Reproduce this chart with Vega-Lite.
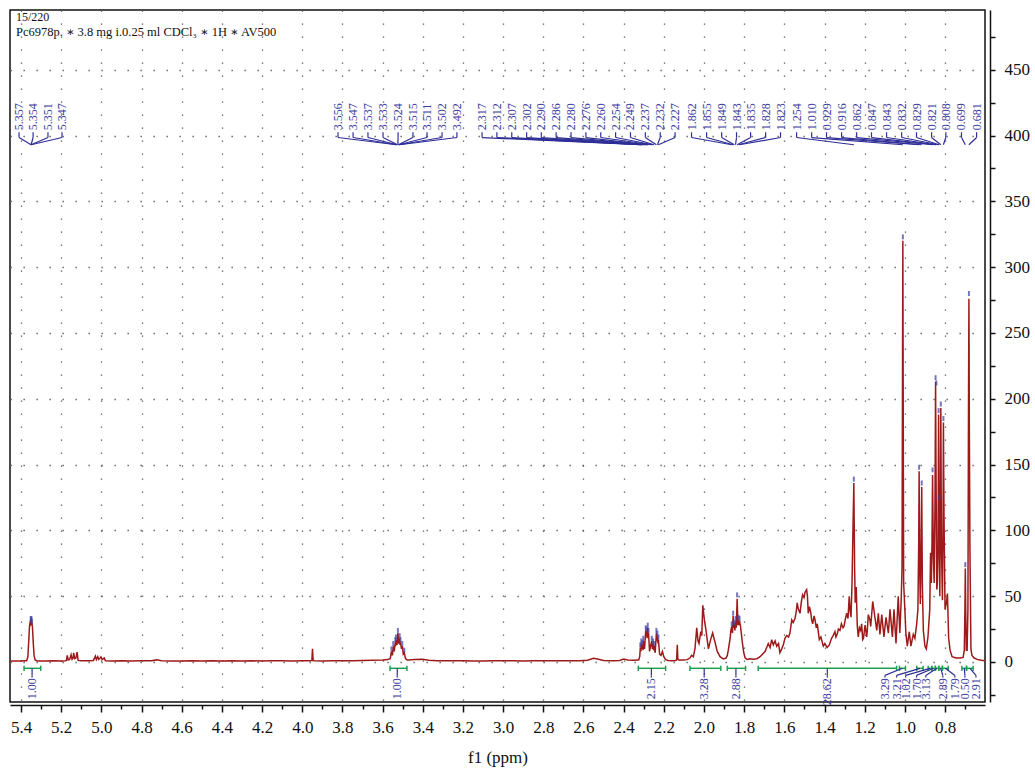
{
"$schema": "https://vega.github.io/schema/vega-lite/v6.json",
"width": 975, "height": 692,
"autosize": "none",
"padding": {"left": 10, "top": 10, "right": 50, "bottom": 67},
"background": "white",
"config": {"view": {"stroke": "#111", "strokeWidth": 1.5}, "font": "Liberation Serif"},
"title": {"text": "15/220", "subtitle": "Pc6978p. ∗ 3.8 mg i.0.25 ml CDCl₃ ∗ 1H ∗ AV500", "anchor": "start", "frame": "group", "orient": "top", "offset": -29, "dx": 6, "font": "Liberation Serif, DejaVu Serif", "fontSize": 12, "fontWeight": "normal", "color": "#111", "subtitleFont": "Liberation Serif, DejaVu Serif", "subtitleFontSize": 12.5, "subtitleColor": "#111", "subtitlePadding": 2},
"datasets": {
"spec": [
{"ppm":5.455,"v":0.7},{"ppm":5.43,"v":0.8},{"ppm":5.40,"v":0.7},{"ppm":5.38,"v":0.9},{"ppm":5.372,"v":1.0},{"ppm":5.366,"v":4},{"ppm":5.362,"v":15},{"ppm":5.358,"v":27},{"ppm":5.355,"v":30},{"ppm":5.352,"v":29},{"ppm":5.349,"v":31},{"ppm":5.346,"v":30},{"ppm":5.343,"v":26},{"ppm":5.339,"v":14},{"ppm":5.335,"v":5},{"ppm":5.330,"v":1.5},{"ppm":5.32,"v":0.8},{"ppm":5.28,"v":0.7},{"ppm":5.24,"v":1.0},{"ppm":5.20,"v":0.8},{"ppm":5.18,"v":1.0},
{"ppm":5.174,"v":1.2},{"ppm":5.170,"v":5},{"ppm":5.165,"v":1.5},{"ppm":5.158,"v":2},{"ppm":5.151,"v":5.5},{"ppm":5.146,"v":2},{"ppm":5.141,"v":3},{"ppm":5.138,"v":7},{"ppm":5.133,"v":2.5},{"ppm":5.127,"v":3},{"ppm":5.121,"v":7.5},{"ppm":5.116,"v":1.2},{"ppm":5.10,"v":0.9},{"ppm":5.06,"v":1.0},{"ppm":5.04,"v":1.2},
{"ppm":5.030,"v":4.5},{"ppm":5.025,"v":1.8},{"ppm":5.018,"v":4},{"ppm":5.013,"v":2},{"ppm":5.006,"v":3},{"ppm":5.002,"v":3.8},{"ppm":4.996,"v":1.8},{"ppm":4.990,"v":2.5},{"ppm":4.986,"v":3},{"ppm":4.980,"v":1.0},
{"ppm":4.95,"v":0.8},{"ppm":4.90,"v":1.0},{"ppm":4.85,"v":0.7},{"ppm":4.80,"v":0.9},{"ppm":4.75,"v":1.0},{"ppm":4.725,"v":1.6},{"ppm":4.70,"v":0.9},{"ppm":4.65,"v":0.8},{"ppm":4.60,"v":0.8},{"ppm":4.55,"v":1.0},{"ppm":4.50,"v":0.7},{"ppm":4.45,"v":0.9},{"ppm":4.40,"v":0.8},{"ppm":4.35,"v":1.0},{"ppm":4.30,"v":0.8},{"ppm":4.25,"v":0.9},{"ppm":4.20,"v":0.7},{"ppm":4.15,"v":0.9},{"ppm":4.10,"v":1.0},{"ppm":4.05,"v":0.8},{"ppm":4.00,"v":0.9},{"ppm":3.96,"v":1.0},{"ppm":3.952,"v":1.2},{"ppm":3.949,"v":10},{"ppm":3.946,"v":1.2},{"ppm":3.94,"v":0.9},{"ppm":3.90,"v":0.8},{"ppm":3.85,"v":1.0},{"ppm":3.80,"v":0.9},{"ppm":3.75,"v":1.0},{"ppm":3.70,"v":1.2},{"ppm":3.65,"v":1.4},{"ppm":3.60,"v":1.6},
{"ppm":3.575,"v":1.8},{"ppm":3.562,"v":2.5},{"ppm":3.556,"v":8},{"ppm":3.551,"v":5},{"ppm":3.547,"v":12},{"ppm":3.542,"v":8},{"ppm":3.537,"v":15},{"ppm":3.535,"v":12},{"ppm":3.533,"v":17},{"ppm":3.528,"v":13},{"ppm":3.524,"v":22},{"ppm":3.519,"v":14},{"ppm":3.515,"v":18},{"ppm":3.513,"v":13},{"ppm":3.511,"v":15},{"ppm":3.506,"v":10},{"ppm":3.502,"v":12},{"ppm":3.497,"v":6},{"ppm":3.492,"v":7},{"ppm":3.486,"v":2.5},{"ppm":3.478,"v":1.5},
{"ppm":3.47,"v":1.5},{"ppm":3.44,"v":1.8},{"ppm":3.40,"v":2.0},{"ppm":3.37,"v":1.4},{"ppm":3.33,"v":1.0},{"ppm":3.30,"v":1.0},{"ppm":3.25,"v":0.9},{"ppm":3.20,"v":1.0},{"ppm":3.15,"v":0.8},{"ppm":3.10,"v":0.8},{"ppm":3.05,"v":1.0},{"ppm":3.00,"v":1.0},{"ppm":2.95,"v":0.9},{"ppm":2.90,"v":0.8},{"ppm":2.85,"v":1.0},{"ppm":2.80,"v":1.0},{"ppm":2.75,"v":0.9},{"ppm":2.70,"v":0.9},{"ppm":2.65,"v":1.0},{"ppm":2.62,"v":1.0},{"ppm":2.58,"v":1.3},{"ppm":2.55,"v":2.8},{"ppm":2.53,"v":2.2},{"ppm":2.50,"v":1.2},{"ppm":2.45,"v":1.0},{"ppm":2.42,"v":1.2},{"ppm":2.40,"v":2.2},{"ppm":2.38,"v":1.5},{"ppm":2.35,"v":1.3},{"ppm":2.33,"v":1.5},
{"ppm":2.325,"v":1.5},{"ppm":2.320,"v":4},{"ppm":2.317,"v":11},{"ppm":2.314,"v":8},{"ppm":2.312,"v":14},{"ppm":2.309,"v":10},{"ppm":2.307,"v":13},{"ppm":2.304,"v":9},{"ppm":2.302,"v":16},{"ppm":2.296,"v":10},{"ppm":2.290,"v":24},{"ppm":2.288,"v":20},{"ppm":2.286,"v":23},{"ppm":2.283,"v":18},{"ppm":2.280,"v":26},{"ppm":2.278,"v":20},{"ppm":2.276,"v":22},{"ppm":2.271,"v":8},{"ppm":2.266,"v":12},{"ppm":2.260,"v":16},{"ppm":2.257,"v":10},{"ppm":2.254,"v":14},{"ppm":2.251,"v":9},{"ppm":2.249,"v":12},{"ppm":2.243,"v":7},{"ppm":2.237,"v":22},{"ppm":2.234,"v":16},{"ppm":2.232,"v":20},{"ppm":2.229,"v":14},{"ppm":2.227,"v":17},{"ppm":2.221,"v":6},{"ppm":2.214,"v":5},{"ppm":2.207,"v":8},{"ppm":2.200,"v":4},{"ppm":2.192,"v":2},{"ppm":2.180,"v":1.2},{"ppm":2.160,"v":1},
{"ppm":2.14,"v":1.2},{"ppm":2.136,"v":2},{"ppm":2.133,"v":13},{"ppm":2.130,"v":2},{"ppm":2.125,"v":1.5},{"ppm":2.10,"v":1.5},{"ppm":2.085,"v":1.8},{"ppm":2.075,"v":2.5},
{"ppm":2.070,"v":3},{"ppm":2.062,"v":5},{"ppm":2.053,"v":4},{"ppm":2.045,"v":10},{"ppm":2.036,"v":26},{"ppm":2.030,"v":16},{"ppm":2.025,"v":14},{"ppm":2.016,"v":23},{"ppm":2.011,"v":20},{"ppm":2.006,"v":43},{"ppm":1.998,"v":32},{"ppm":1.990,"v":24},{"ppm":1.978,"v":10},{"ppm":1.967,"v":17},{"ppm":1.957,"v":22},{"ppm":1.945,"v":15},{"ppm":1.934,"v":8},{"ppm":1.920,"v":4},{"ppm":1.904,"v":2.3},{"ppm":1.890,"v":3},{"ppm":1.884,"v":5},
{"ppm":1.879,"v":9},{"ppm":1.870,"v":18},{"ppm":1.866,"v":24},{"ppm":1.862,"v":27},{"ppm":1.858,"v":22},{"ppm":1.855,"v":35},{"ppm":1.852,"v":26},{"ppm":1.849,"v":28},{"ppm":1.846,"v":24},{"ppm":1.843,"v":31},{"ppm":1.839,"v":26},{"ppm":1.835,"v":48},{"ppm":1.831,"v":28},{"ppm":1.828,"v":32},{"ppm":1.825,"v":28},{"ppm":1.823,"v":31},{"ppm":1.818,"v":27},{"ppm":1.810,"v":16},{"ppm":1.802,"v":7},{"ppm":1.795,"v":3},{"ppm":1.785,"v":2},
{"ppm":1.771,"v":2.5},{"ppm":1.755,"v":2},{"ppm":1.736,"v":2.5},{"ppm":1.721,"v":4},{"ppm":1.696,"v":8},{"ppm":1.680,"v":14},{"ppm":1.671,"v":11},{"ppm":1.663,"v":17},{"ppm":1.655,"v":13},{"ppm":1.646,"v":16},{"ppm":1.638,"v":12},{"ppm":1.629,"v":14},{"ppm":1.622,"v":7},{"ppm":1.613,"v":10},{"ppm":1.605,"v":13},{"ppm":1.597,"v":18},{"ppm":1.588,"v":20},{"ppm":1.579,"v":19},{"ppm":1.572,"v":22},{"ppm":1.563,"v":32},{"ppm":1.556,"v":30},{"ppm":1.547,"v":33},{"ppm":1.541,"v":38},{"ppm":1.536,"v":45},{"ppm":1.530,"v":40},{"ppm":1.522,"v":37},{"ppm":1.515,"v":46},{"ppm":1.509,"v":51},{"ppm":1.502,"v":49},{"ppm":1.497,"v":53},{"ppm":1.489,"v":55},{"ppm":1.485,"v":50},{"ppm":1.481,"v":37},{"ppm":1.475,"v":42},{"ppm":1.469,"v":38},{"ppm":1.464,"v":32},{"ppm":1.459,"v":29},{"ppm":1.452,"v":35},{"ppm":1.447,"v":32},{"ppm":1.441,"v":26},{"ppm":1.436,"v":29},{"ppm":1.426,"v":17},{"ppm":1.418,"v":19},{"ppm":1.406,"v":12},{"ppm":1.398,"v":14},{"ppm":1.387,"v":11},{"ppm":1.376,"v":13},{"ppm":1.365,"v":18},{"ppm":1.357,"v":20},{"ppm":1.348,"v":23},{"ppm":1.343,"v":19},{"ppm":1.337,"v":21},{"ppm":1.331,"v":25},{"ppm":1.323,"v":24},{"ppm":1.316,"v":29},{"ppm":1.308,"v":26},{"ppm":1.303,"v":27},{"ppm":1.297,"v":32},{"ppm":1.290,"v":37},{"ppm":1.283,"v":33},{"ppm":1.277,"v":50},{"ppm":1.272,"v":38},{"ppm":1.268,"v":34},{"ppm":1.263,"v":60},{"ppm":1.259,"v":95},{"ppm":1.254,"v":136},{"ppm":1.250,"v":70},{"ppm":1.247,"v":45},{"ppm":1.242,"v":57},{"ppm":1.237,"v":28},{"ppm":1.232,"v":19},{"ppm":1.226,"v":26},{"ppm":1.220,"v":24},{"ppm":1.215,"v":29},{"ppm":1.210,"v":17},{"ppm":1.206,"v":18},{"ppm":1.198,"v":28},{"ppm":1.190,"v":19},{"ppm":1.187,"v":24},{"ppm":1.182,"v":36},{"ppm":1.174,"v":32},{"ppm":1.170,"v":27},{"ppm":1.160,"v":46},{"ppm":1.149,"v":34},{"ppm":1.140,"v":24},{"ppm":1.132,"v":37},{"ppm":1.124,"v":21},{"ppm":1.115,"v":36},{"ppm":1.104,"v":19},{"ppm":1.094,"v":34},{"ppm":1.082,"v":22},{"ppm":1.074,"v":40},{"ppm":1.062,"v":19},{"ppm":1.054,"v":40},{"ppm":1.044,"v":14},{"ppm":1.033,"v":50},{"ppm":1.025,"v":22},{"ppm":1.018,"v":48},{"ppm":1.014,"v":72},{"ppm":1.010,"v":320},{"ppm":1.006,"v":60},{"ppm":1.000,"v":40},{"ppm":0.995,"v":22},{"ppm":0.988,"v":12},{"ppm":0.978,"v":23},{"ppm":0.970,"v":12},{"ppm":0.958,"v":21},{"ppm":0.950,"v":18},
{"ppm":0.941,"v":29},{"ppm":0.935,"v":40},{"ppm":0.931,"v":90},{"ppm":0.929,"v":145},{"ppm":0.926,"v":70},{"ppm":0.923,"v":44},{"ppm":0.919,"v":90},{"ppm":0.916,"v":133},{"ppm":0.913,"v":60},{"ppm":0.908,"v":24},{"ppm":0.900,"v":12},{"ppm":0.893,"v":10},{"ppm":0.885,"v":19},{"ppm":0.876,"v":40},{"ppm":0.872,"v":83},{"ppm":0.868,"v":60},{"ppm":0.865,"v":90},{"ppm":0.862,"v":142},{"ppm":0.858,"v":80},{"ppm":0.854,"v":60},{"ppm":0.850,"v":120},{"ppm":0.847,"v":213},{"ppm":0.845,"v":150},{"ppm":0.841,"v":55},{"ppm":0.838,"v":60},{"ppm":0.835,"v":80},{"ppm":0.832,"v":188},{"ppm":0.830,"v":130},{"ppm":0.829,"v":122},{"ppm":0.826,"v":50},{"ppm":0.823,"v":120},{"ppm":0.821,"v":193},{"ppm":0.818,"v":90},{"ppm":0.813,"v":47},{"ppm":0.810,"v":100},{"ppm":0.808,"v":182},{"ppm":0.805,"v":110},{"ppm":0.800,"v":40},{"ppm":0.793,"v":45},{"ppm":0.788,"v":52},{"ppm":0.782,"v":18},{"ppm":0.775,"v":9},{"ppm":0.765,"v":4},{"ppm":0.745,"v":3},{"ppm":0.725,"v":3},{"ppm":0.710,"v":3.5},{"ppm":0.704,"v":9},{"ppm":0.701,"v":40},{"ppm":0.699,"v":71},{"ppm":0.697,"v":40},{"ppm":0.694,"v":9},{"ppm":0.690,"v":9},{"ppm":0.686,"v":40},{"ppm":0.683,"v":200},{"ppm":0.681,"v":276},{"ppm":0.679,"v":180},{"ppm":0.676,"v":85},{"ppm":0.671,"v":10},{"ppm":0.666,"v":5},{"ppm":0.655,"v":3},{"ppm":0.640,"v":2},{"ppm":0.620,"v":1.3},{"ppm":0.601,"v":1}
],
"peaks": [
{"lab":"5.357","lx":5.410,"px":5.350,"pk":5.352,"h":33},
{"lab":"5.354","lx":5.340,"px":5.350,"pk":5.350,"h":32},
{"lab":"5.351","lx":5.266,"px":5.350,"pk":5.348,"h":33},
{"lab":"5.347","lx":5.196,"px":5.350,"pk":5.346,"h":31},
{"lab":"3.556","lx":3.822,"px":3.532,"pk":3.556,"h":10},
{"lab":"3.547","lx":3.747,"px":3.530,"pk":3.547,"h":14},
{"lab":"3.537","lx":3.673,"px":3.528,"pk":3.537,"h":17},
{"lab":"3.533","lx":3.598,"px":3.526,"pk":3.533,"h":19},
{"lab":"3.524","lx":3.523,"px":3.524,"pk":3.524,"h":24},
{"lab":"3.515","lx":3.449,"px":3.522,"pk":3.515,"h":20},
{"lab":"3.511","lx":3.379,"px":3.520,"pk":3.511,"h":17},
{"lab":"3.502","lx":3.304,"px":3.518,"pk":3.502,"h":14},
{"lab":"3.492","lx":3.230,"px":3.516,"pk":3.492,"h":9},
{"lab":"2.317","lx":3.105,"px":2.317,"pk":2.317,"h":13},
{"lab":"2.312","lx":3.031,"px":2.312,"pk":2.312,"h":16},
{"lab":"2.307","lx":2.957,"px":2.307,"pk":2.307,"h":15},
{"lab":"2.302","lx":2.883,"px":2.302,"pk":2.302,"h":18},
{"lab":"2.290","lx":2.810,"px":2.290,"pk":2.290,"h":26},
{"lab":"2.286","lx":2.736,"px":2.286,"pk":2.286,"h":25},
{"lab":"2.280","lx":2.662,"px":2.280,"pk":2.280,"h":28},
{"lab":"2.276","lx":2.588,"px":2.276,"pk":2.276,"h":24},
{"lab":"2.260","lx":2.514,"px":2.260,"pk":2.260,"h":18},
{"lab":"2.254","lx":2.440,"px":2.254,"pk":2.254,"h":16},
{"lab":"2.249","lx":2.366,"px":2.249,"pk":2.249,"h":14},
{"lab":"2.237","lx":2.292,"px":2.237,"pk":2.237,"h":24},
{"lab":"2.232","lx":2.218,"px":2.232,"pk":2.232,"h":22},
{"lab":"2.227","lx":2.144,"px":2.227,"pk":2.227,"h":19},
{"lab":"1.862","lx":2.062,"px":1.862,"pk":1.862,"h":29},
{"lab":"1.855","lx":1.987,"px":1.855,"pk":1.855,"h":37},
{"lab":"1.849","lx":1.912,"px":1.849,"pk":1.849,"h":30},
{"lab":"1.843","lx":1.838,"px":1.843,"pk":1.843,"h":33},
{"lab":"1.835","lx":1.768,"px":1.835,"pk":1.835,"h":51},
{"lab":"1.828","lx":1.693,"px":1.828,"pk":1.828,"h":34},
{"lab":"1.823","lx":1.619,"px":1.823,"pk":1.823,"h":33},
{"lab":"1.254","lx":1.539,"px":1.254,"pk":1.254,"h":139},
{"lab":"1.010","lx":1.464,"px":1.010,"pk":1.010,"h":323},
{"lab":"0.929","lx":1.390,"px":0.929,"pk":0.929,"h":148},
{"lab":"0.916","lx":1.315,"px":0.916,"pk":0.916,"h":136},
{"lab":"0.862","lx":1.240,"px":0.862,"pk":0.862,"h":146},
{"lab":"0.847","lx":1.166,"px":0.847,"pk":0.847,"h":216},
{"lab":"0.843","lx":1.091,"px":0.843,"pk":0.843,"h":212},
{"lab":"0.832","lx":1.016,"px":0.832,"pk":0.832,"h":191},
{"lab":"0.829","lx":0.942,"px":0.829,"pk":0.829,"h":125},
{"lab":"0.821","lx":0.867,"px":0.821,"pk":0.821,"h":196},
{"lab":"0.808","lx":0.796,"px":0.808,"pk":0.808,"h":185},
{"lab":"0.699","lx":0.718,"px":0.699,"pk":0.699,"h":74},
{"lab":"0.681","lx":0.643,"px":0.681,"pk":0.681,"h":280}
],
"integ": [
{"val":"1.00","from":5.385,"to":5.302,"c":5.345,"lx":5.345},
{"val":"1.00","from":3.563,"to":3.479,"c":3.527,"lx":3.527},
{"val":"2.15","from":2.327,"to":2.191,"c":2.262,"lx":2.262},
{"val":"3.28","from":2.070,"to":1.916,"c":1.999,"lx":1.999},
{"val":"2.88","from":1.884,"to":1.793,"c":1.841,"lx":1.841},
{"val":"28.62","from":1.730,"to":1.041,"c":1.386,"lx":1.386},
{"val":"3.29","from":1.027,"to":0.997,"c":1.012,"lx":1.099},
{"val":"3.21","from":0.941,"to":0.909,"c":0.925,"lx":1.041},
{"val":"1.02","from":0.884,"to":0.866,"c":0.875,"lx":0.996},
{"val":"1.70","from":0.866,"to":0.848,"c":0.857,"lx":0.942},
{"val":"3.13","from":0.848,"to":0.831,"c":0.840,"lx":0.896},
{"val":"2.89","from":0.831,"to":0.813,"c":0.822,"lx":0.811},
{"val":"1.79","from":0.813,"to":0.784,"c":0.798,"lx":0.751},
{"val":"0.50","from":0.716,"to":0.693,"c":0.704,"lx":0.701},
{"val":"2.91","from":0.693,"to":0.660,"c":0.676,"lx":0.646}
]
},
"resolve": {"axis": {"x": "independent", "y": "independent"}},
"layer": [
{"data": {"name": "spec"},
 "mark": {"type": "line", "color": "#9e1a1a", "strokeWidth": 1.5},
 "encoding": {
  "x": {"field": "ppm", "type": "quantitative", "scale": {"domain": [0.601, 5.455], "reverse": true, "nice": false, "zero": false},
   "axis": {"orient": "bottom", "values": [5.4,5.2,5.0,4.8,4.6,4.4,4.2,4.0,3.8,3.6,3.4,3.2,3.0,2.8,2.6,2.4,2.2,2.0,1.8,1.6,1.4,1.2,1.0,0.8], "format": ".1f", "offset": 3, "domainColor": "#111", "domainWidth": 1.5, "tickColor": "#111", "tickWidth": 1.5, "tickSize": 7, "labelFont": "Liberation Serif", "labelFontSize": 17, "labelColor": "#111", "labelPadding": 7, "labelFlush": false, "labelOverlap": false, "grid": true, "gridColor": "#555", "gridDash": [1.3, 11.7], "gridWidth": 1.3, "title": "f1 (ppm)", "titleFont": "Liberation Serif", "titleFontSize": 17, "titleFontWeight": "normal", "titleColor": "#111", "titlePadding": 14}},
  "y": {"field": "v", "type": "quantitative", "scale": {"domain": [-30.4, 495.4], "nice": false, "zero": false},
   "axis": {"orient": "right", "values": [0,50,100,150,200,250,300,350,400,450], "offset": 5, "domainColor": "#111", "domainWidth": 1.5, "tickColor": "#111", "tickWidth": 1.5, "tickSize": 5, "labelFont": "Liberation Serif", "labelFontSize": 17, "labelColor": "#111", "labelPadding": 9, "labelFlush": false, "labelOverlap": false, "grid": true, "gridColor": "#555", "gridDash": [1.3, 11.7], "gridWidth": 1.3, "title": null}}
 }},
{"data": {"name": "peaks"},
 "mark": {"type": "tick", "orient": "vertical", "color": "#3c3ca0", "size": 5, "thickness": 2},
 "encoding": {
  "x": {"field": "pk", "type": "quantitative", "scale": {"domain": [0.601, 5.455], "reverse": true, "nice": false, "zero": false},
   "axis": {"orient": "bottom", "values": [5.3,5.1,4.9,4.7,4.5,4.3,4.1,3.9,3.7,3.5,3.3,3.1,2.9,2.7,2.5,2.3,2.1,1.9,1.7,1.5,1.3,1.1,0.9,0.7], "offset": 3, "domain": false, "labels": false, "tickSize": 4, "tickWidth": 1.5, "tickColor": "#111", "grid": false, "title": null}},
  "y": {"field": "h", "type": "quantitative", "scale": {"domain": [-30.4, 495.4], "nice": false, "zero": false},
   "axis": {"orient": "right", "values": [-25,25,75,125,175,225,275,325,375,425,475], "offset": 5, "domain": false, "labels": false, "tickSize": 5, "tickWidth": 1.5, "tickColor": "#111", "grid": false, "title": null}}
 }},
{"data": {"name": "peaks"},
 "mark": {"type": "text", "angle": 270, "align": "left", "baseline": "middle", "fontSize": 12, "font": "Liberation Serif", "color": "#3c3ca0"},
 "encoding": {
  "x": {"field": "lx", "type": "quantitative", "scale": {"domain": [0.601, 5.455], "reverse": true, "nice": false, "zero": false}, "axis": null},
  "y": {"datum": 404, "scale": {"domain": [-30.4, 495.4], "nice": false, "zero": false}, "axis": null},
  "text": {"field": "lab"}
 }},
{"data": {"name": "peaks"},
 "mark": {"type": "rule", "color": "#2e2e96", "strokeWidth": 1.2},
 "encoding": {
  "x": {"field": "lx", "type": "quantitative", "scale": {"domain": [0.601, 5.455], "reverse": true, "nice": false, "zero": false}, "axis": null},
  "y": {"datum": 402.5, "scale": {"domain": [-30.4, 495.4], "nice": false, "zero": false}, "axis": null},
  "y2": {"datum": 398.5}
 }},
{"data": {"name": "peaks"},
 "mark": {"type": "rule", "color": "#2e2e96", "strokeWidth": 1.2},
 "encoding": {
  "x": {"field": "lx", "type": "quantitative", "scale": {"domain": [0.601, 5.455], "reverse": true, "nice": false, "zero": false}, "axis": null},
  "x2": {"field": "px"},
  "y": {"datum": 398.5, "scale": {"domain": [-30.4, 495.4], "nice": false, "zero": false}, "axis": null},
  "y2": {"datum": 393}
 }},
{"data": {"name": "integ"},
 "mark": {"type": "rule", "color": "#1ea050", "strokeWidth": 1.5},
 "encoding": {
  "x": {"field": "from", "type": "quantitative", "scale": {"domain": [0.601, 5.455], "reverse": true, "nice": false, "zero": false}, "axis": null},
  "x2": {"field": "to"},
  "y": {"datum": -4.8, "scale": {"domain": [-30.4, 495.4], "nice": false, "zero": false}, "axis": null}
 }},
{"data": {"name": "integ"},
 "mark": {"type": "rule", "color": "#1ea050", "strokeWidth": 1.5},
 "encoding": {
  "x": {"field": "from", "type": "quantitative", "scale": {"domain": [0.601, 5.455], "reverse": true, "nice": false, "zero": false}, "axis": null},
  "y": {"datum": -2.8, "scale": {"domain": [-30.4, 495.4], "nice": false, "zero": false}, "axis": null},
  "y2": {"datum": -6.8}
 }},
{"data": {"name": "integ"},
 "mark": {"type": "rule", "color": "#1ea050", "strokeWidth": 1.5},
 "encoding": {
  "x": {"field": "to", "type": "quantitative", "scale": {"domain": [0.601, 5.455], "reverse": true, "nice": false, "zero": false}, "axis": null},
  "y": {"datum": -2.8, "scale": {"domain": [-30.4, 495.4], "nice": false, "zero": false}, "axis": null},
  "y2": {"datum": -6.8}
 }},
{"data": {"name": "integ"},
 "mark": {"type": "rule", "color": "#2e2e96", "strokeWidth": 1.2},
 "encoding": {
  "x": {"field": "lx", "type": "quantitative", "scale": {"domain": [0.601, 5.455], "reverse": true, "nice": false, "zero": false}, "axis": null},
  "y": {"datum": -11.8, "scale": {"domain": [-30.4, 495.4], "nice": false, "zero": false}, "axis": null},
  "y2": {"datum": -10.2}
 }},
{"data": {"name": "integ"},
 "mark": {"type": "rule", "color": "#2e2e96", "strokeWidth": 1.2},
 "encoding": {
  "x": {"field": "lx", "type": "quantitative", "scale": {"domain": [0.601, 5.455], "reverse": true, "nice": false, "zero": false}, "axis": null},
  "x2": {"field": "c"},
  "y": {"datum": -10.2, "scale": {"domain": [-30.4, 495.4], "nice": false, "zero": false}, "axis": null},
  "y2": {"datum": -4.8}
 }},
{"data": {"name": "integ"},
 "mark": {"type": "text", "angle": 270, "align": "right", "baseline": "middle", "fontSize": 12, "font": "Liberation Serif", "color": "#3c3ca0"},
 "encoding": {
  "x": {"field": "lx", "type": "quantitative", "scale": {"domain": [0.601, 5.455], "reverse": true, "nice": false, "zero": false}, "axis": null},
  "y": {"datum": -12.4, "scale": {"domain": [-30.4, 495.4], "nice": false, "zero": false}, "axis": null},
  "text": {"field": "val"}
 }}
]
}
